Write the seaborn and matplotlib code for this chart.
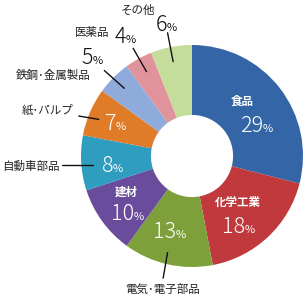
import matplotlib
matplotlib.use("Agg")
import matplotlib.pyplot as plt
import numpy as np
import seaborn as sns

# 業種別の構成比 (%)
categories = ["食品", "化学工業", "電気･電子部品", "建材", "自動車部品",
              "紙･パルプ", "鉄鋼･金属製品", "医薬品", "その他"]
shares = [29, 18, 13, 10, 8, 7, 5, 4, 6]
colors = ["#3466a7", "#c0393d", "#7ea03a", "#6a4c9c", "#2f9dc0",
          "#e07b28", "#8fabdc", "#e0939a", "#c4dd9a"]

sns.set_theme(style="white")
plt.rcParams["font.family"] = ["Noto Sans CJK JP", "DejaVu Sans"]

fig = plt.figure(figsize=(3.05, 3.0), dpi=100)
ax = fig.add_axes([81 / 305, 33 / 300, 222 / 305, 222 / 300])

palette = sns.color_palette(colors)
ax.pie(shares, colors=palette, startangle=90, counterclock=False,
       radius=1, wedgeprops=dict(width=0.63, linewidth=0))
ax.set_xlim(-1, 1)
ax.set_ylim(-1, 1)
ax.set_aspect("equal")
ax.axis("off")

# ラベル配置 (データ座標)
# name: 名前の中心, pct: 数字と%の境目(ベースライン), inside: 円内かどうか, line: 引き出し線
layout = {
    "食品":        dict(name=(0.45, 0.49), pct=(0.64, 0.22), inside=True, line=None),
    "化学工業":    dict(name=(0.41, -0.42), pct=(0.48, -0.69), inside=True, line=None),
    "電気･電子部品": dict(name=(-0.27, -1.20), pct=(-0.14, -0.74), inside=False,
                       line=((-0.22, -0.87), (-0.26, -1.10))),
    "建材":        dict(name=(-0.59, -0.33), pct=(-0.52, -0.58), inside=True, line=None),
    "自動車部品":  dict(name=(-1.45, -0.09), pct=(-0.71, -0.14), inside=False,
                       line=((-1.17, -0.08), (-0.89, -0.08))),
    "紙･パルプ":    dict(name=(-1.30, 0.41), pct=(-0.68, 0.23), inside=False,
                       line=((-1.02, 0.36), (-0.84, 0.33))),
    "鉄鋼･金属製品": dict(name=(-1.25, 0.73), pct=(-0.89, 0.83), inside=False,
                       line=((-0.79, 0.77), (-0.61, 0.61))),
    "医薬品":      dict(name=(-0.90, 1.11), pct=(-0.59, 1.02), inside=False,
                       line=((-0.53, 0.97), (-0.41, 0.76))),
    "その他":      dict(name=(-0.49, 1.31), pct=(-0.22, 1.13), inside=False,
                       line=((-0.22, 1.11), (-0.17, 0.85))),
}

# 円の外にある数字は黒
pct_black = {"鉄鋼･金属製品", "医薬品", "その他"}

for cat, val in zip(categories, shares):
    lay = layout[cat]
    name_color = "white" if lay["inside"] else "#222222"
    ax.text(*lay["name"], cat, ha="center", va="center", fontsize=8.3,
            color=name_color, fontweight="bold" if lay["inside"] else "normal")
    pc = "#111111" if cat in pct_black else "white"
    x, y = lay["pct"]
    ax.text(x, y, str(val), ha="right", va="baseline", fontsize=15.5,
            color=pc, fontweight="light")
    ax.text(x - 0.005, y, "%", ha="left", va="baseline", fontsize=8, color=pc)
    if lay["line"] is not None:
        (x0, y0), (x1, y1) = lay["line"]
        ax.plot([x0, x1], [y0, y1], color="#111111", lw=1.0, clip_on=False)

fig.savefig("out.png", dpi=100)
